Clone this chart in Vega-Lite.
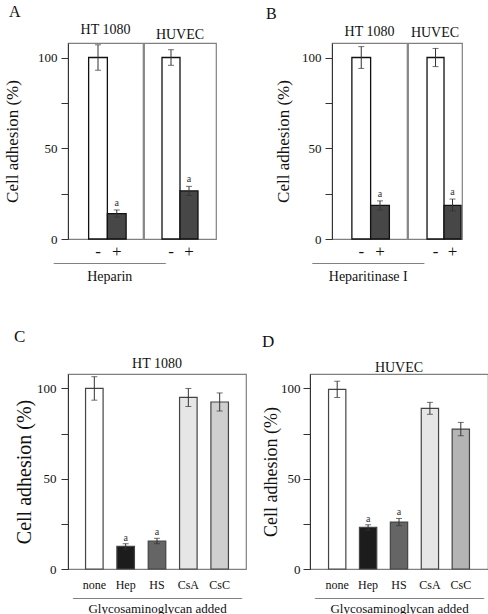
{
 "$schema": "https://vega.github.io/schema/vega-lite/v6.json",
 "padding": {"left": 2, "top": 4, "right": 2, "bottom": 2},
 "background": "white",
 "config": {
   "font": "Liberation Serif",
   "view": {"stroke": "#808080", "strokeWidth": 1.2},
   "axis": {"labelFont": "Liberation Serif", "titleFont": "Liberation Serif", "labelColor": "#111", "titleColor": "#111", "titleFontWeight": "normal", "grid": false},
   "title": {"font": "Liberation Serif", "fontWeight": "normal", "color": "#111"},
   "text": {"font": "Liberation Serif"}
 },
 "datasets": {
   "A": [
     {"cell": "HT 1080", "treat": "-", "value": 100, "lo": 93, "hi": 107, "sig": ""},
     {"cell": "HT 1080", "treat": "+", "value": 14, "lo": 12, "hi": 16, "sig": "a"},
     {"cell": "HUVEC", "treat": "-", "value": 100, "lo": 95.7, "hi": 104.3, "sig": ""},
     {"cell": "HUVEC", "treat": "+", "value": 26.5, "lo": 24, "hi": 29, "sig": "a"}
   ],
   "B": [
     {"cell": "HT 1080", "treat": "-", "value": 100, "lo": 94, "hi": 106, "sig": ""},
     {"cell": "HT 1080", "treat": "+", "value": 18.5, "lo": 16, "hi": 21, "sig": "a"},
     {"cell": "HUVEC", "treat": "-", "value": 100, "lo": 95, "hi": 105, "sig": ""},
     {"cell": "HUVEC", "treat": "+", "value": 18.5, "lo": 15.5, "hi": 22, "sig": "a"}
   ],
   "C": [
     {"cell": "HT 1080", "gag": "none", "value": 100, "lo": 93.5, "hi": 106.5, "sig": ""},
     {"cell": "HT 1080", "gag": "Hep", "value": 12.5, "lo": 11, "hi": 14, "sig": "a"},
     {"cell": "HT 1080", "gag": "HS", "value": 15.5, "lo": 14, "hi": 17, "sig": "a"},
     {"cell": "HT 1080", "gag": "CsA", "value": 95, "lo": 90, "hi": 100, "sig": ""},
     {"cell": "HT 1080", "gag": "CsC", "value": 92.5, "lo": 87.5, "hi": 97.5, "sig": ""}
   ],
   "D": [
     {"cell": "HUVEC", "gag": "none", "value": 99.5, "lo": 95, "hi": 104, "sig": ""},
     {"cell": "HUVEC", "gag": "Hep", "value": 23, "lo": 21.5, "hi": 24.5, "sig": "a"},
     {"cell": "HUVEC", "gag": "HS", "value": 26, "lo": 24, "hi": 28, "sig": "a"},
     {"cell": "HUVEC", "gag": "CsA", "value": 89, "lo": 85.7, "hi": 92.3, "sig": ""},
     {"cell": "HUVEC", "gag": "CsC", "value": 77.5, "lo": 73.8, "hi": 81.2, "sig": ""}
   ]
 },
 "spacing": 44,
 "center": false,
 "resolve": {"scale": {"x": "independent", "y": "independent", "fill": "independent"}},
 "vconcat": [
   {
     "spacing": 48,
     "resolve": {"scale": {"x": "independent", "y": "independent", "fill": "independent"}},
     "hconcat": [
       {
         "title": {"text": "A", "anchor": "start", "frame": "bounds", "fontSize": 16, "offset": 2, "dx": 6},
         "data": {"name": "A"},
         "vconcat": [
           {
             "title": {"text": ["————————", "Heparin"], "orient": "bottom", "anchor": "middle", "fontSize": 14, "lineHeight": 14, "offset": -4},
             "spacing": -5,
             "resolve": {"scale": {"x": "independent"}},
             "hconcat": [
               {
                 "title": {"text": "HT 1080", "fontSize": 14, "offset": -4},
                 "transform": [{"filter": "datum.cell === 'HT 1080'"}],
                 "width": 75, "height": 196,
                 "encoding": {
                   "x": {"field": "treat", "type": "nominal", "sort": ["-", "+"], "scale": {"domain": ["-", "+"], "paddingInner": 0, "paddingOuter": 1.14, "align": 0.55},
                         "axis": {"title": null, "labelAngle": 0, "labelFontSize": 17, "ticks": false, "domain": false, "labelPadding": 4}},
                   "y": {"field": "value", "type": "quantitative", "scale": {"domain": [0, 108], "nice": false},
                         "axis": {"values": [0, 25, 50, 75, 100], "labelExpr": "datum.value % 50 === 0 ? datum.label : ''", "title": "Cell adhesion (%)", "titleFont": "Liberation Serif", "labelFont": "Liberation Serif", "titleFontSize": 17, "labelFontSize": 13, "tickSize": 7, "labelPadding": 4, "titlePadding": 16, "domainColor": "#333", "tickColor": "#333"}}
                 },
                 "layer": [
                   {"mark": {"type": "bar", "stroke": "#111", "strokeWidth": 1.3},
                    "encoding": {"fill": {"field": "treat", "type": "nominal", "scale": {"domain": ["-", "+"], "range": ["#ffffff", "#474747"]}, "legend": null}}},
                   {"mark": {"type": "errorbar", "ticks": true, "size": 6, "thickness": 1, "color": "#333"},
                    "encoding": {"y": {"field": "lo", "type": "quantitative"}, "y2": {"field": "hi"}}},
                   {"mark": {"type": "text", "dy": -7, "fontSize": 10, "color": "#333"},
                    "encoding": {"y": {"field": "hi", "type": "quantitative"}, "text": {"field": "sig"}}}
                 ]
               },
               {
                 "title": {"text": "HUVEC", "fontSize": 14, "offset": -4},
                 "transform": [{"filter": "datum.cell === 'HUVEC'"}],
                 "width": 72, "height": 196,
                 "encoding": {
                   "x": {"field": "treat", "type": "nominal", "sort": ["-", "+"], "scale": {"domain": ["-", "+"], "paddingInner": 0, "paddingOuter": 1.18, "align": 0.5},
                         "axis": {"title": null, "labelAngle": 0, "labelFontSize": 17, "ticks": false, "domain": false, "labelPadding": 4}},
                   "y": {"field": "value", "type": "quantitative", "scale": {"domain": [0, 108], "nice": false}, "axis": null}
                 },
                 "layer": [
                   {"mark": {"type": "bar", "stroke": "#111", "strokeWidth": 1.3},
                    "encoding": {"fill": {"field": "treat", "type": "nominal", "scale": {"domain": ["-", "+"], "range": ["#ffffff", "#474747"]}, "legend": null}}},
                   {"mark": {"type": "errorbar", "ticks": true, "size": 6, "thickness": 1, "color": "#333"},
                    "encoding": {"y": {"field": "lo", "type": "quantitative"}, "y2": {"field": "hi"}}},
                   {"mark": {"type": "text", "dy": -7, "fontSize": 10, "color": "#333"},
                    "encoding": {"y": {"field": "hi", "type": "quantitative"}, "text": {"field": "sig"}}}
                 ]
               }
             ]
           }
         ]
       },
       {
         "title": {"text": "B", "anchor": "start", "frame": "bounds", "fontSize": 16, "offset": 2, "dx": -8},
         "data": {"name": "B"},
         "vconcat": [
           {
             "title": {"text": ["————————", "Heparitinase I"], "orient": "bottom", "anchor": "middle", "fontSize": 14, "lineHeight": 14, "offset": -4},
             "spacing": -5,
             "resolve": {"scale": {"x": "independent"}},
             "hconcat": [
               {
                 "title": {"text": "HT 1080", "fontSize": 14, "offset": -4},
                 "transform": [{"filter": "datum.cell === 'HT 1080'"}],
                 "width": 75, "height": 196,
                 "encoding": {
                   "x": {"field": "treat", "type": "nominal", "sort": ["-", "+"], "scale": {"domain": ["-", "+"], "paddingInner": 0, "paddingOuter": 1.2, "align": 0.53},
                         "axis": {"title": null, "labelAngle": 0, "labelFontSize": 17, "ticks": false, "domain": false, "labelPadding": 4}},
                   "y": {"field": "value", "type": "quantitative", "scale": {"domain": [0, 108], "nice": false},
                         "axis": {"values": [0, 25, 50, 75, 100], "labelExpr": "datum.value % 50 === 0 ? datum.label : ''", "title": "Cell adhesion (%)", "titleFont": "Liberation Serif", "labelFont": "Liberation Serif", "titleFontSize": 17, "labelFontSize": 13, "tickSize": 7, "labelPadding": 4, "titlePadding": 9, "domainColor": "#333", "tickColor": "#333"}}
                 },
                 "layer": [
                   {"mark": {"type": "bar", "stroke": "#111", "strokeWidth": 1.3},
                    "encoding": {"fill": {"field": "treat", "type": "nominal", "scale": {"domain": ["-", "+"], "range": ["#ffffff", "#474747"]}, "legend": null}}},
                   {"mark": {"type": "errorbar", "ticks": true, "size": 6, "thickness": 1, "color": "#333"},
                    "encoding": {"y": {"field": "lo", "type": "quantitative"}, "y2": {"field": "hi"}}},
                   {"mark": {"type": "text", "dy": -7, "fontSize": 10, "color": "#333"},
                    "encoding": {"y": {"field": "hi", "type": "quantitative"}, "text": {"field": "sig"}}}
                 ]
               },
               {
                 "title": {"text": "HUVEC", "fontSize": 14, "offset": -4},
                 "transform": [{"filter": "datum.cell === 'HUVEC'"}],
                 "width": 54, "height": 196,
                 "encoding": {
                   "x": {"field": "treat", "type": "nominal", "sort": ["-", "+"], "scale": {"domain": ["-", "+"], "paddingInner": 0, "paddingOuter": 0.59, "align": 0.95},
                         "axis": {"title": null, "labelAngle": 0, "labelFontSize": 17, "ticks": false, "domain": false, "labelPadding": 4}},
                   "y": {"field": "value", "type": "quantitative", "scale": {"domain": [0, 108], "nice": false}, "axis": null}
                 },
                 "layer": [
                   {"mark": {"type": "bar", "stroke": "#111", "strokeWidth": 1.3},
                    "encoding": {"fill": {"field": "treat", "type": "nominal", "scale": {"domain": ["-", "+"], "range": ["#ffffff", "#474747"]}, "legend": null}}},
                   {"mark": {"type": "errorbar", "ticks": true, "size": 6, "thickness": 1, "color": "#333"},
                    "encoding": {"y": {"field": "lo", "type": "quantitative"}, "y2": {"field": "hi"}}},
                   {"mark": {"type": "text", "dy": -7, "fontSize": 10, "color": "#333"},
                    "encoding": {"y": {"field": "hi", "type": "quantitative"}, "text": {"field": "sig"}}}
                 ]
               }
             ]
           }
         ]
       }
     ]
   },
   {
     "spacing": 14,
     "resolve": {"scale": {"x": "independent", "y": "independent", "fill": "independent"}},
     "hconcat": [
       {
         "title": {"text": "C", "anchor": "start", "frame": "bounds", "fontSize": 17, "offset": 10},
         "data": {"name": "C"},
         "vconcat": [
           {
             "title": {"text": "HT 1080", "fontSize": 14, "offset": -5},
             "width": 178, "height": 195,
             "encoding": {
               "x": {"field": "gag", "type": "nominal", "sort": ["none", "Hep", "HS", "CsA", "CsC"], "scale": {"paddingInner": 0.44, "paddingOuter": 0.56},
                     "axis": {"title": ["—————————————", "Glycosaminoglycan added"], "titleFontSize": 13, "titleLineHeight": 12, "titlePadding": 0, "labelAngle": 0, "labelFontSize": 12, "ticks": false, "domain": false, "labelPadding": 10}},
               "y": {"field": "value", "type": "quantitative", "scale": {"domain": [0, 108], "nice": false},
                     "axis": {"values": [0, 25, 50, 75, 100], "labelExpr": "datum.value % 50 === 0 ? datum.label : ''", "title": "Cell adhesion (%)", "titleFont": "Liberation Serif", "labelFont": "Liberation Serif", "titleFontSize": 20, "labelFontSize": 13, "tickSize": 7, "labelPadding": 5, "titlePadding": 2, "domainColor": "#333", "tickColor": "#333"}}
             },
             "layer": [
               {"mark": {"type": "bar", "stroke": "#444", "strokeWidth": 1.2},
                "encoding": {"fill": {"field": "gag", "type": "nominal", "scale": {"domain": ["none", "Hep", "HS", "CsA", "CsC"], "range": ["#ffffff", "#1c1c1c", "#656565", "#e6e6e6", "#cfcfcf"]}, "legend": null}}},
               {"mark": {"type": "errorbar", "ticks": true, "size": 6, "thickness": 1, "color": "#333"},
                "encoding": {"y": {"field": "lo", "type": "quantitative"}, "y2": {"field": "hi"}}},
               {"mark": {"type": "text", "dy": -6, "fontSize": 10, "color": "#333"},
                "encoding": {"y": {"field": "hi", "type": "quantitative"}, "text": {"field": "sig"}}}
             ]
           }
         ]
       },
       {
         "title": {"text": "D", "anchor": "start", "frame": "bounds", "fontSize": 17, "offset": 10},
         "data": {"name": "D"},
         "vconcat": [
           {
             "title": {"text": "HUVEC", "fontSize": 14, "offset": -5},
             "width": 178, "height": 195,
             "encoding": {
               "x": {"field": "gag", "type": "nominal", "sort": ["none", "Hep", "HS", "CsA", "CsC"], "scale": {"paddingInner": 0.44, "paddingOuter": 0.6},
                     "axis": {"title": ["—————————————", "Glycosaminoglycan added"], "titleFontSize": 13, "titleLineHeight": 12, "titlePadding": 0, "labelAngle": 0, "labelFontSize": 12, "ticks": false, "domain": false, "labelPadding": 10}},
               "y": {"field": "value", "type": "quantitative", "scale": {"domain": [0, 108], "nice": false},
                     "axis": {"values": [0, 25, 50, 75, 100], "labelExpr": "datum.value % 50 === 0 ? datum.label : ''", "title": "Cell adhesion (%)", "titleFont": "Liberation Serif", "labelFont": "Liberation Serif", "titleFontSize": 18, "labelFontSize": 13, "tickSize": 7, "labelPadding": 3, "titlePadding": 0, "domainColor": "#333", "tickColor": "#333"}}
             },
             "layer": [
               {"mark": {"type": "bar", "stroke": "#444", "strokeWidth": 1.2},
                "encoding": {"fill": {"field": "gag", "type": "nominal", "scale": {"domain": ["none", "Hep", "HS", "CsA", "CsC"], "range": ["#ffffff", "#1c1c1c", "#656565", "#e6e6e6", "#b4b4b4"]}, "legend": null}}},
               {"mark": {"type": "errorbar", "ticks": true, "size": 6, "thickness": 1, "color": "#333"},
                "encoding": {"y": {"field": "lo", "type": "quantitative"}, "y2": {"field": "hi"}}},
               {"mark": {"type": "text", "dy": -6, "fontSize": 10, "color": "#333"},
                "encoding": {"y": {"field": "hi", "type": "quantitative"}, "text": {"field": "sig"}}}
             ]
           }
         ]
       }
     ]
   }
 ]
}
